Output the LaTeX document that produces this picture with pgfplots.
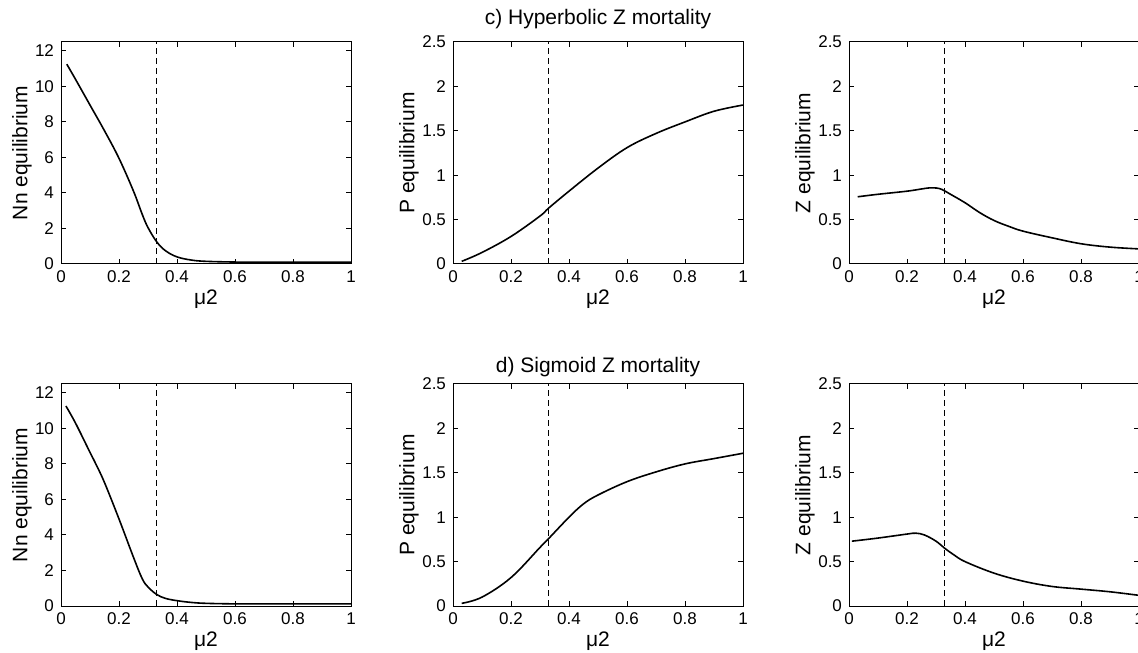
\documentclass[border=0pt]{standalone}
\usepackage{fontspec}
\setmainfont{Liberation Sans}
\usepackage{pgfplots}
\pgfplotsset{compat=1.18}

\pgfplotsset{
  panel/.style={
    scale only axis, width=145pt, height=111pt, anchor=south west,
    xmin=0, xmax=1,
    xtick={0,0.2,0.4,0.6,0.8,1},
    xticklabels={0,0.2,0.4,0.6,0.8,1},
    tick align=inside, xtick pos=both, ytick pos=both,
    major tick length=2.5pt,
    every tick/.style={black, line width=0.5pt},
    axis line style={line width=0.5pt},
    tick label style={font=\fontsize{8.5}{10}\selectfont},
    /pgf/number format/assume math mode=true,
    label style={font=\fontsize{10.5}{12}\selectfont},
    xlabel={μ2},
    xlabel style={at={(axis description cs:0.5,-0.16)}, anchor=center},
    clip=false,
  },
  nn/.style={ymin=0, ymax=12.5, ytick={0,2,4,6,8,10,12}, yticklabels={0,2,4,6,8,10,12},
    ylabel={Nn equilibrium}, ylabel style={at={(axis description cs:-0.135,0.5)}, anchor=center}},
  pz/.style={ymin=0, ymax=2.5, ytick={0,0.5,1,1.5,2,2.5}, yticklabels={0,0.5,1,1.5,2,2.5},
    ylabel style={at={(axis description cs:-0.152,0.5)}, anchor=center}},
  curve/.style={black, line width=0.8pt, smooth, tension=0.6},
  vdash/.style={black, line width=0.5pt, dash pattern=on 3pt off 2pt},
}

\begin{document}
\begin{tikzpicture}
% ---------------- top row ----------------
\begin{axis}[panel, nn, at={(30.5pt,194pt)}]
\addplot[curve] coordinates {(0.02,11.25) (0.05,10.4) (0.10,8.95) (0.15,7.5) (0.20,5.95) (0.25,4.1) (0.28,2.8) (0.30,2.05) (0.33,1.25) (0.36,0.75) (0.40,0.4) (0.45,0.22) (0.50,0.15) (0.60,0.11) (0.70,0.1) (0.80,0.1) (0.90,0.1) (1.00,0.1)};
\addplot[vdash] coordinates {(0.33,0) (0.33,12.5)};
\end{axis}

\begin{axis}[panel, pz, ylabel={P equilibrium}, at={(226.5pt,194pt)}]
\addplot[curve] coordinates {(0.03,0.03) (0.1,0.13) (0.2,0.31) (0.3,0.54) (0.33,0.63) (0.4,0.82) (0.5,1.08) (0.6,1.31) (0.7,1.47) (0.8,1.6) (0.9,1.72) (1.0,1.79)};
\addplot[vdash] coordinates {(0.33,0) (0.33,2.5)};
\node[font=\fontsize{10.5}{12}\selectfont, anchor=base] at (axis description cs:0.5,1) [yshift=8.5pt] {c) Hyperbolic Z mortality};
\end{axis}

\begin{axis}[panel, pz, ylabel={Z equilibrium}, at={(424.5pt,194pt)}]
\addplot[curve] coordinates {(0.03,0.757) (0.1,0.785) (0.2,0.82) (0.25,0.845) (0.28,0.858) (0.3,0.856) (0.32,0.84) (0.35,0.785) (0.4,0.69) (0.45,0.58) (0.5,0.49) (0.55,0.425) (0.6,0.37) (0.7,0.295) (0.8,0.228) (0.9,0.19) (1.0,0.17)};
\addplot[vdash] coordinates {(0.33,0) (0.33,2.5)};
\end{axis}

% ---------------- bottom row ----------------
\begin{axis}[panel, nn, at={(30.5pt,23pt)}]
\addplot[curve] coordinates {(0.017,11.26) (0.05,10.3) (0.1,8.65) (0.12,8.0) (0.15,6.95) (0.2,4.9) (0.25,2.74) (0.28,1.54) (0.3,1.07) (0.33,0.65) (0.36,0.43) (0.4,0.3) (0.45,0.2) (0.5,0.15) (0.6,0.12) (0.7,0.12) (0.8,0.12) (0.9,0.12) (1.0,0.12)};
\addplot[vdash] coordinates {(0.33,0) (0.33,12.5)};
\end{axis}

\begin{axis}[panel, pz, ylabel={P equilibrium}, at={(226.5pt,23pt)}]
\addplot[curve] coordinates {(0.03,0.03) (0.1,0.1) (0.2,0.32) (0.3,0.66) (0.33,0.76) (0.4,1.0) (0.45,1.15) (0.5,1.25) (0.6,1.4) (0.7,1.51) (0.8,1.6) (0.9,1.66) (1.0,1.72)};
\addplot[vdash] coordinates {(0.33,0) (0.33,2.5)};
\node[font=\fontsize{10.5}{12}\selectfont, anchor=base] at (axis description cs:0.5,1) [yshift=5.5pt] {d) Sigmoid Z mortality};
\end{axis}

\begin{axis}[panel, pz, ylabel={Z equilibrium}, at={(424.5pt,23pt)}]
\addplot[curve] coordinates {(0.01,0.73) (0.1,0.765) (0.2,0.81) (0.23,0.82) (0.26,0.80) (0.3,0.73) (0.33,0.65) (0.36,0.58) (0.4,0.5) (0.5,0.37) (0.6,0.28) (0.7,0.22) (0.8,0.19) (0.9,0.16) (1.0,0.12)};
\addplot[vdash] coordinates {(0.33,0) (0.33,2.5)};
\end{axis}

\pgfresetboundingbox
\useasboundingbox (0,0) rectangle (569pt,326pt);
\end{tikzpicture}
\end{document}
